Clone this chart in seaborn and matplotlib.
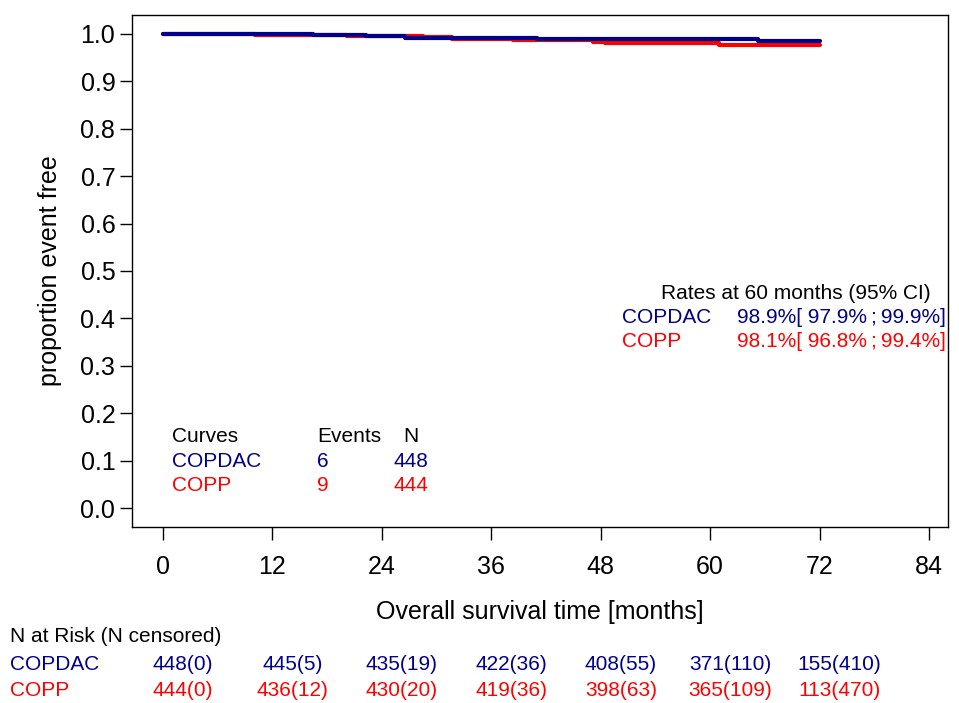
import pandas as pd
import seaborn as sns
import matplotlib.pyplot as plt
import matplotlib.transforms as mtransforms

# Kaplan-Meier step data
copdac_time = [0, 16.5, 22.3, 26.5, 41.0, 65.3, 72]
copdac_surv = [1.0, 0.9978, 0.9955, 0.991, 0.9888, 0.9852, 0.9852]
copp_time = [0, 10.1, 20.2, 28.5, 31.7, 38.4, 47.2, 48.5, 61.0, 72]
copp_surv = [1.0, 0.9977, 0.9955, 0.9932, 0.9886, 0.9863, 0.9838, 0.981, 0.9775, 0.9775]

arms = ['COPDAC', 'COPP']
colors = {'COPDAC': '#00008B', 'COPP': '#FF0000'}
events = [6, 9]
n_total = [448, 444]
rates = ['98.9%[ 97.9%\u2009;\u200999.9%]', '98.1%[ 96.8%\u2009;\u200999.4%]']

risk_times = [0, 12, 24, 36, 48, 60, 72]
risk_copdac = ['448(0)', '445(5)', '435(19)', '422(36)', '408(55)', '371(110)', '155(410)']
risk_copp = ['444(0)', '436(12)', '430(20)', '419(36)', '398(63)', '365(109)', '113(470)']

df = pd.concat([
    pd.DataFrame({'time': copdac_time, 'surv': copdac_surv, 'arm': 'COPDAC'}),
    pd.DataFrame({'time': copp_time, 'surv': copp_surv, 'arm': 'COPP'}),
])

sns.set_style('ticks')
plt.rcParams['font.family'] = ['Liberation Sans', 'DejaVu Sans']
plt.rcParams['text.color'] = 'black'
plt.rcParams['axes.labelcolor'] = 'black'

fig = plt.figure(figsize=(9.59, 7.03), dpi=100)
ax = fig.add_axes([0.1376, 0.2504, 0.8509, 0.7283])

sns.lineplot(data=df, x='time', y='surv', hue='arm', hue_order=['COPP', 'COPDAC'],
             palette=colors, drawstyle='steps-post', linewidth=3, legend=False,
             estimator=None, ax=ax)

ax.set_xlim(-3.4, 86.08)
ax.set_ylim(-0.04, 1.04)
ax.set_xticks(range(0, 85, 12))
ax.set_yticks([i / 10 for i in range(11)])
ax.set_yticklabels([f'{i / 10:.1f}' for i in range(11)])
ax.tick_params(axis='both', labelsize=18, length=9, width=1, color='black', labelcolor='black')
ax.tick_params(axis='x', pad=11)
ax.tick_params(axis='y', pad=3)
for s in ax.spines.values():
    s.set_color('black')
    s.set_linewidth(1)
ax.set_xlabel('Overall survival time [months]', fontsize=18, labelpad=15)
ax.set_ylabel('proportion event free', fontsize=18, labelpad=13)

# events table
fs = 15
ax.text(1.0, 0.15, 'Curves', fontsize=fs, va='center')
ax.text(16.9, 0.15, 'Events', fontsize=fs, va='center')
ax.text(27.2, 0.15, 'N', fontsize=fs, va='center', ha='center')
for i, arm in enumerate(arms):
    yy = 0.099 - i * 0.0505
    ax.text(1.0, yy, arm, color=colors[arm], fontsize=fs, va='center')
    ax.text(16.9, yy, str(events[i]), color=colors[arm], fontsize=fs, va='center')
    ax.text(25.3, yy, str(n_total[i]), color=colors[arm], fontsize=fs, va='center')

# rates at 60 months
ax.text(54.6, 0.4515, 'Rates at 60 months (95% CI)', fontsize=fs, va='center')
for i, arm in enumerate(arms):
    yy = 0.401 - i * 0.0505
    ax.text(50.3, yy, arm, color=colors[arm], fontsize=fs, va='center')
    ax.text(62.9, yy, rates[i], color=colors[arm], fontsize=fs, va='center')

# number at risk table
trans = mtransforms.blended_transform_factory(ax.transData, fig.transFigure)
fig.text(10 / 959, 1 - 637 / 703, 'N at Risk (N censored)', fontsize=fs, va='center')
for i, (arm, row) in enumerate(zip(arms, [risk_copdac, risk_copp])):
    yy = 1 - (665 + i * 25) / 703
    fig.text(10 / 959, yy, arm, color=colors[arm], fontsize=fs, va='center')
    for t, lab in zip(risk_times, row):
        ax.text(t + 2.2, yy, lab, color=colors[arm], fontsize=fs, va='center',
                ha='center', transform=trans, clip_on=False)

plt.savefig('out.png', dpi=100)
